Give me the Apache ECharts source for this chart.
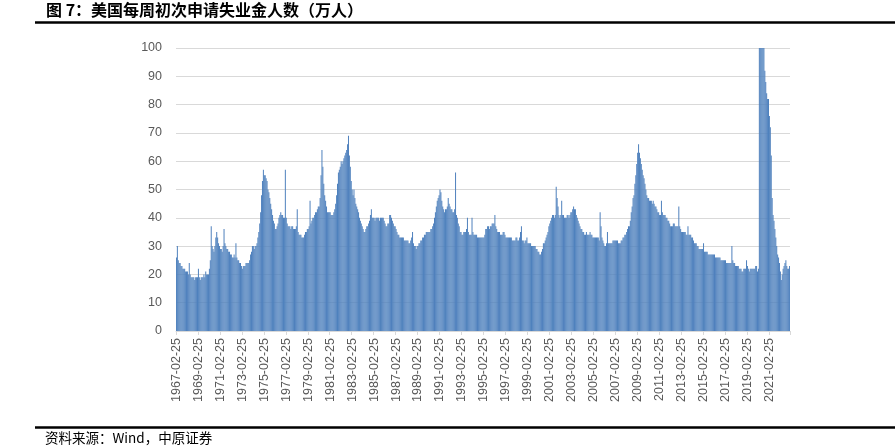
<!DOCTYPE html>
<html>
<head>
<meta charset="utf-8">
<script src="https://cdn.jsdelivr.net/npm/echarts@6/dist/echarts.min.js"></script>
<style>
html,body{margin:0;padding:0;background:#fff;}
#main{width:896px;height:448px;}
</style>
</head>
<body>
<div id="main"></div>
<script>
// Monthly (approximate envelope of weekly) initial jobless claims, unit: 万人
// Series starts 1967-02 and ends 2022-12
var startYear = 1967, startMonth = 2;
var claims1960s = [26,30,25,24,24,23,23,22,22,22,21,
  21,21,20,24,20,19,19,19,19,18,19,19,
  19,22,19,18,19,19,19,20,19,21,20,20];
var claims1970s = [20,22,25,37,30,29,28,30,33,35,33,31,
  30,29,29,28,30,36,31,30,29,29,28,28,
  27,27,26,26,27,26,31,26,25,25,24,24,
  23,22,23,23,23,24,24,24,24,25,27,28,
  30,30,29,30,30,31,33,35,38,42,48,53,
  57,55,55,54,53,50,49,47,45,43,41,39,
  38,36,36,37,38,40,41,42,41,41,40,40,
  57,40,38,37,37,37,36,37,37,36,36,36,
  37,43,35,34,34,34,33,33,33,34,35,35,
  36,36,37,46,38,39,40,40,41,42,42,43];
var claims1980s = [44,44,47,55,64,58,52,48,46,44,42,42,
  42,42,41,41,41,42,43,45,48,52,56,57,
  58,60,59,60,61,62,63,64,66,69,62,58,
  53,50,48,50,47,45,44,43,42,40,39,38,
  37,36,35,35,36,37,37,38,39,41,43,40,
  40,40,39,40,40,40,40,39,40,40,40,40,
  39,38,37,37,38,38,41,41,40,39,38,37,
  37,36,35,34,34,33,33,33,33,33,32,32,
  32,32,32,31,31,32,33,35,31,30,30,29,
  30,30,31,31,32,32,33,33,34,34,35,35];
var claims1990s = [35,35,35,36,36,37,38,40,42,44,46,47,
  48,50,49,46,44,43,42,43,43,44,47,45,
  44,43,43,42,42,43,56,41,40,38,37,35,
  35,34,34,35,35,35,36,40,35,34,34,34,
  40,35,34,34,34,34,33,33,33,33,33,33,
  33,33,34,36,36,37,37,36,37,37,38,38,
  38,41,37,36,35,35,35,34,34,34,35,35,
  34,33,33,33,33,33,33,33,32,32,32,32,
  33,33,32,32,33,35,37,32,32,31,32,32,
  33,31,31,31,31,30,30,30,30,30,29,29];
var claims2000s = [28,28,27,27,28,29,31,31,32,33,34,35,
  37,38,39,40,41,41,40,41,51,47,44,41,
  40,41,46,41,41,40,40,40,41,41,40,41,
  42,42,43,44,43,43,41,40,39,38,37,36,
  36,35,35,34,34,35,34,34,34,35,34,34,
  33,33,33,33,33,33,33,32,42,37,33,32,
  31,30,30,31,35,31,31,31,31,31,32,32,
  32,32,32,32,31,31,31,32,32,33,33,34,
  34,35,36,37,37,39,42,44,47,48,52,55,
  59,63,66,63,61,59,57,55,54,52,50,48];
var claims2010s = [47,47,46,46,46,45,46,45,44,44,43,42,
  42,41,41,46,42,41,41,41,40,40,39,39,
  38,37,37,37,38,38,37,37,37,37,44,37,
  36,35,35,35,35,35,34,34,37,34,34,34,
  33,33,32,31,31,31,30,30,29,29,29,29,
  29,31,28,28,28,28,27,27,27,27,27,27,
  27,27,26,26,26,26,26,26,25,25,25,25,
  25,25,24,24,24,24,24,24,30,25,24,24,
  23,23,23,23,22,22,22,21,21,22,22,22,
  25,23,22,21,22,22,22,22,22,22,23,23];
var claims2020s = [21,22,300,500,250,150,130,105,92,88,84,82,
  82,76,72,62,47,41,39,36,33,30,27,26,
  24,21,18,20,22,23,24,25,23,22,22,23];
var yTicks = [0,10,20,30,40,50,60,70,80,90,100];

var values = [].concat(claims1960s, claims1970s, claims1980s, claims1990s, claims2000s, claims2010s, claims2020s);
var categories = [];
for (var i = 0; i < values.length; i++) {
  var m = startMonth - 1 + i;
  var y = startYear + Math.floor(m / 12);
  var mm = (m % 12) + 1;
  categories.push(y + '-' + (mm < 10 ? '0' + mm : mm) + '-25');
}

var chart = echarts.init(document.getElementById('main'), null, {renderer: 'canvas'});
chart.setOption({
  animation: false,
  backgroundColor: '#ffffff',
  title: {
    text: '图 7：美国每周初次申请失业金人数（万人）',
    left: 46, top: 2, padding: 0,
    textStyle: {fontSize: 16, fontWeight: 'bold', color: '#000', fontFamily: '"Noto Sans CJK SC", sans-serif'}
  },
  graphic: [
    {type: 'line', shape: {x1: 35, y1: 22.5, x2: 895, y2: 22.5}, style: {stroke: '#000', lineWidth: 2.5}},
    {type: 'line', shape: {x1: 35, y1: 427.5, x2: 895, y2: 427.5}, style: {stroke: '#000', lineWidth: 2.5}},
    {type: 'text', left: 45, top: 431, style: {text: '资料来源：Wind，中原证券', fontSize: 13.5, fill: '#000', fontFamily: '"Noto Sans CJK SC", sans-serif'}}
  ],
  grid: {left: 176, right: 106, top: 48, bottom: 117, containLabel: false},
  xAxis: {
    type: 'category',
    data: categories,
    boundaryGap: true,
    axisLine: {lineStyle: {color: '#d9d9d9', width: 1}},
    axisTick: {show: true, interval: 23, length: 4, lineStyle: {color: '#d9d9d9'}},
    axisLabel: {interval: 23, rotate: 90, margin: 7, fontSize: 12.5, color: '#595959', fontFamily: '"Liberation Sans", Arial, sans-serif'}
  },
  yAxis: {
    type: 'value',
    min: yTicks[0], max: yTicks[yTicks.length - 1], interval: 10,
    axisLine: {show: false},
    axisTick: {show: false},
    axisLabel: {margin: 14, fontSize: 12.5, color: '#595959', fontFamily: '"Liberation Sans", Arial, sans-serif'},
    splitLine: {lineStyle: {color: '#d9d9d9', width: 1}}
  },
  series: [{
    type: 'bar',
    data: values,
    barCategoryGap: '0%',
    clip: true,
    itemStyle: {color: '#4F81BD'}
  }]
});
</script>
</body>
</html>
